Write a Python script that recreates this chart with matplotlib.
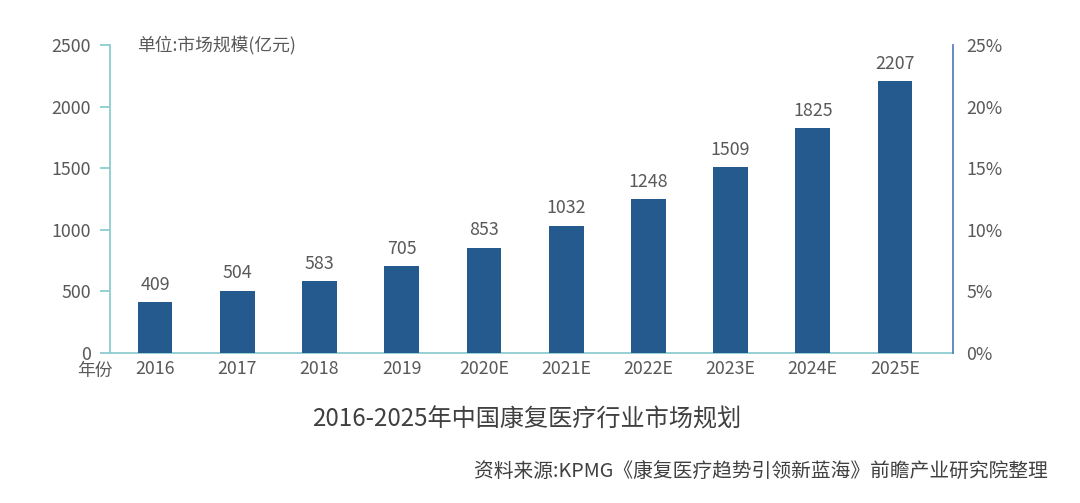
import matplotlib
matplotlib.use("Agg")
import matplotlib.pyplot as plt
from matplotlib.ticker import FuncFormatter

plt.rcParams['font.family'] = ['Noto Sans CJK SC', 'DejaVu Sans']
plt.rcParams['font.weight'] = 'light'

years = ["2016", "2017", "2018", "2019", "2020E", "2021E", "2022E", "2023E", "2024E", "2025E"]
values = [409, 504, 583, 705, 853, 1032, 1248, 1509, 1825, 2207]
left_ticks = [0, 500, 1000, 1500, 2000, 2500]
right_ticks = [0, 0.05, 0.10, 0.15, 0.20, 0.25]

text_color = "#595959"
bar_color = "#255a8f"
teal = "#8ccdd0"
blue_axis = "#5b80c4"
fs = 12.8

fig = plt.figure(figsize=(10.8, 5.03), dpi=100)
ax = fig.add_axes([0.102, 0.299, 0.780, 0.611])
x = list(range(len(years)))
bars = ax.bar(x, values, width=0.422, color=bar_color, zorder=3)
ax.set_xlim(-0.547, 9.70)
ax.set_ylim(0, 2500)
ax.set_yticks(left_ticks)
ax.set_xticks(x)
ax.set_xticklabels(years)
for b, v in zip(bars, values):
    ax.annotate(str(v), (b.get_x() + b.get_width() / 2, v), xytext=(0, 6),
                textcoords="offset points", ha="center", va="bottom",
                fontsize=fs, color=text_color)

for s in ["top", "right"]:
    ax.spines[s].set_visible(False)
ax.spines["left"].set_color(teal)
ax.spines["bottom"].set_color(teal)
ax.spines["left"].set_linewidth(1.3)
ax.spines["bottom"].set_linewidth(1.3)
ax.tick_params(axis="y", colors=teal, labelcolor=text_color, labelsize=fs, length=7, width=1.3, pad=7)
ax.tick_params(axis="x", length=0, labelcolor=text_color, labelsize=fs, pad=5)

ax2 = ax.twinx()
ax2.set_ylim(0, 0.25)
ax2.set_yticks(right_ticks)
ax2.yaxis.set_major_formatter(FuncFormatter(lambda v, p: f"{v*100:.0f}%"))
for s in ["top", "left", "bottom"]:
    ax2.spines[s].set_visible(False)
ax2.spines["right"].set_color(blue_axis)
ax2.spines["right"].set_linewidth(1.3)
ax2.tick_params(axis="y", length=0, labelcolor=text_color, labelsize=fs, pad=10)

fig.text(0.127, 0.91, "单位:市场规模(亿元)", fontsize=fs, color=text_color, va="center", ha="left")
fig.text(0.088, 0.262, "年份", fontsize=fs, color=text_color, va="center", ha="center")
fig.text(0.488, 0.165, "2016-2025年中国康复医疗行业市场规划", fontsize=17.4, color="#404040", va="center", ha="center")
fig.text(0.97, 0.06, "资料来源:KPMG《康复医疗趋势引领新蓝海》前瞻产业研究院整理", fontsize=14.2, color="#404040", va="center", ha="right")

fig.savefig("out.png", dpi=100)
